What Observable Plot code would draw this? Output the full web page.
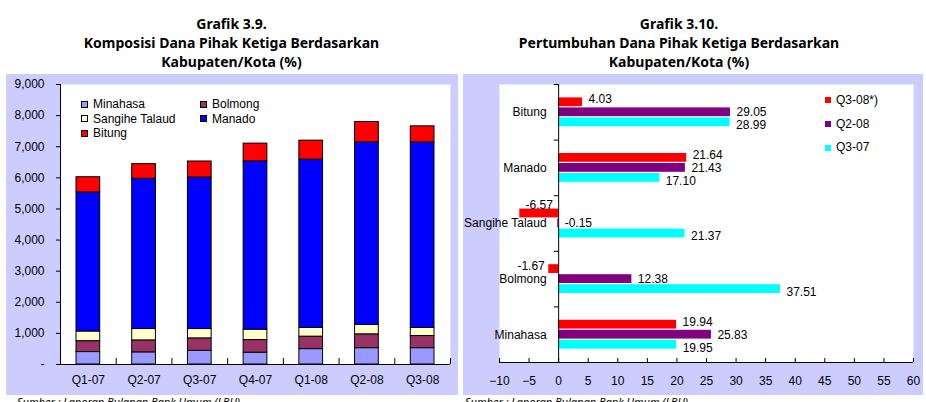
<!DOCTYPE html>
<html>
<head>
<meta charset="utf-8">
<script src="https://cdn.jsdelivr.net/npm/d3@7"></script>
<script src="https://cdn.jsdelivr.net/npm/@observablehq/plot@0.6"></script>
<style>
  body { margin: 0; width: 926px; height: 402px; overflow: hidden; background: #fff; position: relative;
         font-family: "Liberation Sans", Arial, sans-serif; color: #000; }
  .title { position: absolute; top: 14px; font-family: "Noto Sans", sans-serif; font-weight: bold;
           font-size: 14px; line-height: 19px; text-align: center; }
  .panel { position: absolute; top: 74px; }
  .panel svg { display: block; }
  .source { position: absolute; top: 394px; font-family: "Noto Sans", sans-serif; font-style: italic; font-size: 11px; white-space: nowrap; }
  .legend { position: absolute; font-size: 12px; line-height: 14.6px; }
  .legend .item { position: absolute; display: flex; align-items: center; white-space: nowrap; }
  .legend .sw { display: inline-block; box-sizing: border-box; margin-right: 5px; }
</style>
</head>
<body>
<div class="title" style="left:0;width:463px">Grafik 3.9.<br>Komposisi Dana Pihak Ketiga Berdasarkan<br>Kabupaten/Kota (%)</div>
<div class="title" style="left:463px;width:432px">Grafik 3.10.<br>Pertumbuhan Dana Pihak Ketiga Berdasarkan<br>Kabupaten/Kota (%)</div>
<div class="panel" id="left" style="left:6px"></div>
<div class="panel" id="right" style="left:463px"></div>
<div class="source" style="left:17px">Sumber : Laporan Bulanan Bank Umum (LBU)</div>
<div class="source" style="left:465px">Sumber : Laporan Bulanan Bank Umum (LBU)</div>
<script>
// ---- Komposisi DPK (stacked columns) ----
const quarters = ["Q1-07", "Q2-07", "Q3-07", "Q4-07", "Q1-08", "Q2-08", "Q3-08"];
const regions = ["Minahasa", "Bolmong", "Sangihe Talaud", "Manado", "Bitung"];
const minahasa = [400, 390, 440, 380, 495, 525, 525];
const bolmong  = [350, 385, 400, 405, 400, 445, 390];
const sangihe  = [310, 365, 300, 335, 280, 300, 260];
const manado   = [4470, 4830, 4870, 5410, 5410, 5870, 5965];
const bitung   = [490, 470, 515, 570, 610, 655, 515];
const yTicks = [0, 1000, 2000, 3000, 4000, 5000, 6000, 7000, 8000, 9000];

// ---- Pertumbuhan DPK (grouped horizontal bars) ----
const kota = ["Bitung", "Manado", "Sangihe Talaud", "Bolmong", "Minahasa"];
const periods = ["Q3-08*)", "Q2-08", "Q3-07"];
const q308 = [4.03, 21.64, -6.57, -1.67, 19.94];
const q208 = [29.05, 21.43, -0.15, 12.38, 25.83];
const q307 = [28.99, 17.10, 21.37, 37.51, 19.95];
const xTicks = [-10, -5, 0, 5, 10, 15, 20, 25, 30, 35, 40, 45, 50, 55, 60];

const panelBg = "#CCCCFF";
const regionColors = ["#9999FF", "#993366", "#FFFFCC", "#0000FF", "#FF0000"];
const periodColors = ["#FF0000", "#800080", "#00FFFF"];
const baseStyle = {background: panelBg, color: "black", fontFamily: "'Liberation Sans', Arial, sans-serif", fontSize: "12px"};

// Rows in stacking order (bottom to top)
const regionSeries = [minahasa, bolmong, sangihe, manado, bitung];
const stackRows = regions.flatMap((r, k) =>
  quarters.map((q, i) => ({quarter: q, i, region: r, value: regionSeries[k][i]})));

const leftPlot = Plot.plot({
  width: 452, height: 321,
  marginLeft: 54, marginRight: 8, marginTop: 10, marginBottom: 31,
  style: baseStyle,
  x: {type: "linear", domain: [0, quarters.length], label: null},
  y: {domain: [0, 9000], label: null},
  color: {domain: regions, range: regionColors},
  marks: [
    Plot.frame({fill: "white", stroke: "none"}),
    Plot.rectY(stackRows, Plot.stackY({
      x1: "i", x2: d => d.i + 1, y: "value", fill: "region",
      stroke: "black", strokeWidth: 1, insetLeft: 16, insetRight: 16
    })),
    Plot.ruleX([0]),
    Plot.ruleY([0]),
    Plot.axisY({ticks: yTicks, tickSize: 4, tickPadding: 12, label: null,
      tickFormat: d => d === 0 ? "-" : d3.format(",")(d)}),
    Plot.axisX({ticks: d3.range(0, quarters.length + 1), tickSize: -6, label: null, tickFormat: () => ""}),
    Plot.axisX({ticks: quarters.map((q, i) => i + 0.5), tickSize: 0, tickPadding: 11, label: null,
      tickFormat: d => quarters[Math.floor(d)]})
  ]
});
document.getElementById("left").appendChild(leftPlot);

// Legend inside the column chart, two columns
const leftColor = leftPlot.scale("color");
const legendLayout = [
  {name: "Minahasa", col: 0, row: 0}, {name: "Bolmong", col: 1, row: 0},
  {name: "Sangihe Talaud", col: 0, row: 1}, {name: "Manado", col: 1, row: 1},
  {name: "Bitung", col: 0, row: 2}
];
const leftLegend = document.createElement("div");
leftLegend.className = "legend";
leftLegend.style.left = "75px";
leftLegend.style.top = "23px";
for (const it of legendLayout) {
  const el = document.createElement("div");
  el.className = "item";
  el.style.left = (it.col * 119) + "px";
  el.style.top = (it.row * 14.6) + "px";
  el.innerHTML = `<span class="sw" style="width:7px;height:7px;border:1px solid #000;background:${leftColor.apply(it.name)}"></span>${it.name}`;
  leftLegend.appendChild(el);
}
document.getElementById("left").appendChild(leftLegend);

// Grouped bars: each city occupies one unit, periods are offset inside it
const periodSeries = [q308, q208, q307];
const growthRows = kota.flatMap((k, i) =>
  periods.map((p, j) => ({kota: k, i, period: p, j, value: periodSeries[j][i]})));
const slot = 0.18;
const pos = d => d.i + (d.j - 1) * slot;
const fmt = d => d.value.toFixed(2);

// Labels of the three periods are spread a little apart so they stay legible
const valueLabels = periods.flatMap((p, j) => {
  const rows = growthRows.filter(d => d.j === j);
  const spread = (j - 1) * 3;
  return [
    Plot.text(rows.filter(d => d.value >= -1), {
      x: d => Math.max(0, d.value), y: pos, text: fmt, textAnchor: "start", dx: 6, dy: spread}),
    Plot.text(rows.filter(d => d.value < -1 && d.value > -3), {
      x: "value", y: pos, text: fmt, textAnchor: "end", dx: -4, dy: spread}),
    Plot.text(rows.filter(d => d.value <= -3), {
      x: d => d.value / 2, y: pos, text: fmt, dy: -8})
  ];
});

const rightPlot = Plot.plot({
  width: 460, height: 321,
  marginLeft: 36, marginRight: 10, marginTop: 10, marginBottom: 33,
  style: baseStyle,
  x: {domain: [-10, 60], label: null},
  y: {domain: [-0.5, kota.length - 0.5], reverse: true, axis: null},
  color: {domain: periods, range: periodColors},
  marks: [
    Plot.frame({fill: "white", stroke: "none"}),
    Plot.rectX(growthRows, {
      x1: 0, x2: "value",
      y1: d => pos(d) - slot / 2, y2: d => pos(d) + slot / 2,
      fill: "period", insetTop: 0.6, insetBottom: 0.6
    }),
    Plot.ruleX([0]),
    Plot.ruleY([kota.length - 0.5]),
    Plot.ruleY(d3.range(-0.5, kota.length), {x1: -0.75, x2: 0}),
    Plot.text(kota, {x: 0, y: (d, i) => i, textAnchor: "end", dx: -12}),
    Plot.axisX({ticks: xTicks, tickSize: -4, tickPadding: 18, label: null}),
    ...valueLabels
  ]
});
document.getElementById("right").appendChild(rightPlot);

const rightColor = rightPlot.scale("color");
const rightLegend = document.createElement("div");
rightLegend.className = "legend";
rightLegend.style.left = "362px";
rightLegend.style.top = "19px";
periods.forEach((p, j) => {
  const el = document.createElement("div");
  el.className = "item";
  el.style.left = "0px";
  el.style.top = (j * 23.7) + "px";
  el.innerHTML = `<span class="sw" style="width:6px;height:6px;background:${rightColor.apply(p)}"></span>${p}`;
  rightLegend.appendChild(el);
});
document.getElementById("right").appendChild(rightLegend);
</script>
</body>
</html>
